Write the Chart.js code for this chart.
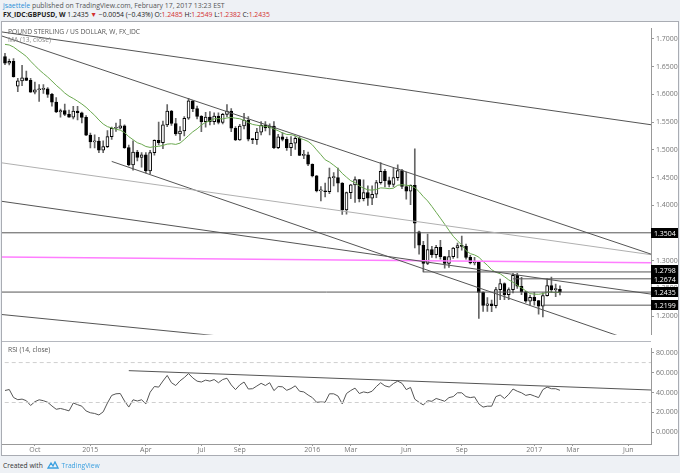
<!DOCTYPE html>
<html>
<head>
<meta charset="utf-8">
<script src="https://cdn.jsdelivr.net/npm/chart.js@4.4.1/dist/chart.umd.min.js"></script>
<style>
  body { margin: 0; width: 680px; height: 473px; background: #eef1f5; position: relative; overflow: hidden; font-family: "Open Sans", "Liberation Sans", sans-serif; }
  .txt { position: absolute; white-space: nowrap; }
  #box { position: absolute; left: 2px; top: 22px; width: 676px; height: 433px; background: #fff; outline: 1px solid #a9acb3; }
  #sep { position: absolute; left: 2px; top: 341px; width: 649px; height: 1px; background: #b5b8bf; }
  canvas { position: absolute; }
  .red { color: #d32f2f; }
</style>
</head>
<body>
<div class="txt" style="left:3px;top:1px;font-size:6.9px;color:#555"><span style="color:#2a8fd8">jsaettele</span> published on TradingView.com, February 17, 2017 13:23 EST</div>
<div class="txt" style="left:3px;top:10px;font-size:6.8px;color:#222"><b>FX_IDC:GBPUSD, W</b> 1.2435 <span class="red">&#9660;</span> &minus;0.0054 (&minus;0.43%) O:<span class="red">1.2485</span> H:<span class="red">1.2549</span> L:<span class="red">1.2382</span> C:<span class="red">1.2435</span></div>
<div id="box"></div>
<canvas id="priceChart" width="676" height="319" style="left:2px;top:22px"></canvas>
<canvas id="rsiChart" width="676" height="113" style="left:2px;top:342px"></canvas>
<div id="sep"></div>
<div class="txt" style="left:8px;top:27px;font-size:6.7px;color:#555">POUND STERLING / US DOLLAR, W, FX_IDC</div>
<div class="txt" style="left:8px;top:35px;font-size:6.7px;color:#888">MA (13, close)</div>
<div class="txt" style="left:8px;top:345px;font-size:6.7px;color:#555">RSI (14, close)</div>
<div class="txt" style="left:3px;top:461px;font-size:6.7px;color:#333">Created with
  <svg width="12" height="8" viewBox="0 0 12 8" style="vertical-align:-1px;margin:0 2px 0 3px"><path d="M1 7 L4 2 L6 5 L8 1 L11 7 Z" fill="none" stroke="#3ba0e0" stroke-width="1.3"/></svg><span style="color:#3ba0e0">TradingView</span></div>

<script>
// weekly bars, index 0 = week of 18 Aug 2014, index 130 = week of 13 Feb 2017
const opens = [1.6685,1.6566,1.6595,1.6150,1.6245,1.6300,1.6255,1.6040,1.6085,1.6090,1.6100,1.6000,1.5860,1.5685,1.5710,1.5640,1.5590,1.5700,1.5670,1.5585,
  1.5265,1.5145,1.5160,1.4995,1.5060,1.5240,1.5390,1.5390,1.5435,1.5040,1.4730,1.4960,1.4865,1.4910,1.4620,1.4950,1.5170,1.5130,1.5450,1.5700,
  1.5475,1.5290,1.5340,1.5570,1.5885,1.5745,1.5605,1.5510,1.5590,1.5510,1.5610,1.5495,1.5640,1.5700,1.5390,1.5180,1.5430,1.5535,1.5195,1.5185,
  1.5320,1.5445,1.5395,1.5430,1.5040,1.5235,1.5190,1.5040,1.5120,1.5210,1.4900,1.4910,1.4740,1.4530,1.4260,1.4260,1.4245,1.4500,1.4500,1.4400,
  1.3915,1.4230,1.4370,1.4465,1.4120,1.4230,1.4130,1.4200,1.4410,1.4615,1.4445,1.4375,1.4500,1.4625,1.4340,1.4255,1.4360,1.3520,1.3280,1.2950,
  1.3200,1.3110,1.3240,1.3075,1.2950,1.3075,1.3230,1.3275,1.3260,1.3060,1.2960,1.2975,1.2430,1.2195,1.2225,1.2190,1.2480,1.2590,1.2390,1.2480,
  1.2735,1.2540,1.2440,1.2270,1.2340,1.2280,1.2180,1.2370,1.2550,1.2480,1.2485];
const highs = [1.6740,1.6640,1.6645,1.6290,1.6525,1.6420,1.6290,1.6225,1.6180,1.6180,1.6125,1.6020,1.5945,1.5735,1.5825,1.5720,1.5785,1.5785,1.5680,1.5620,
  1.5305,1.5270,1.5225,1.5165,1.5350,1.5410,1.5485,1.5550,1.5450,1.5085,1.5165,1.4990,1.4950,1.4950,1.4990,1.5180,1.5500,1.5520,1.5815,1.5715,
  1.5570,1.5420,1.5600,1.5930,1.5890,1.5790,1.5620,1.5675,1.5690,1.5670,1.5670,1.5660,1.5815,1.5745,1.5420,1.5460,1.5660,1.5600,1.5200,1.5390,
  1.5510,1.5510,1.5470,1.5510,1.5280,1.5310,1.5230,1.5240,1.5240,1.5240,1.4990,1.4960,1.4750,1.4540,1.4340,1.4400,1.4670,1.4590,1.4670,1.4410,
  1.4240,1.4380,1.4515,1.4470,1.4460,1.4350,1.4350,1.4450,1.4770,1.4650,1.4510,1.4670,1.4730,1.4650,1.4600,1.4370,1.5020,1.3535,1.3350,1.3480,
  1.3260,1.3280,1.3370,1.3080,1.3190,1.3240,1.3320,1.3445,1.3300,1.3100,1.3060,1.2990,1.2440,1.2335,1.2290,1.2520,1.2670,1.2600,1.2510,1.2775,
  1.2775,1.2700,1.2450,1.2380,1.2430,1.2285,1.2420,1.2675,1.2705,1.2580,1.2549];
const lows = [1.6535,1.6533,1.6310,1.6050,1.6160,1.6250,1.6035,1.6010,1.5875,1.6020,1.5945,1.5790,1.5670,1.5590,1.5615,1.5585,1.5560,1.5540,1.5485,1.5255,
  1.5035,1.5035,1.4950,1.4950,1.5040,1.5190,1.5335,1.5380,1.5025,1.4710,1.4635,1.4800,1.4690,1.4585,1.4565,1.4905,1.5090,1.5020,1.5420,1.5440,
  1.5260,1.5170,1.5250,1.5550,1.5690,1.5560,1.5330,1.5410,1.5450,1.5460,1.5470,1.5470,1.5600,1.5330,1.5165,1.5170,1.5380,1.5160,1.5110,1.5100,
  1.5270,1.5340,1.5270,1.5020,1.5020,1.5160,1.4990,1.4895,1.5010,1.4895,1.4840,1.4715,1.4510,1.4240,1.4080,1.4150,1.4210,1.4350,1.4240,1.3835,
  1.3840,1.4120,1.4050,1.4060,1.4080,1.4000,1.4010,1.4140,1.4380,1.4330,1.4330,1.4330,1.4450,1.4300,1.4110,1.4010,1.3230,1.3120,1.2800,1.2930,
  1.3060,1.3050,1.3030,1.2865,1.2880,1.3040,1.3050,1.3190,1.3030,1.2945,1.2925,1.1960,1.2085,1.2085,1.2080,1.2150,1.2300,1.2300,1.2300,1.2420,
  1.2500,1.2390,1.2250,1.2200,1.2200,1.2035,1.1985,1.2360,1.2430,1.2350,1.2382];
const closes = [1.6566,1.6595,1.6320,1.6245,1.6300,1.6255,1.6040,1.6085,1.6090,1.6100,1.6000,1.5860,1.5685,1.5710,1.5640,1.5590,1.5700,1.5670,1.5585,1.5265,
  1.5145,1.5160,1.4995,1.5060,1.5240,1.5390,1.5390,1.5435,1.5040,1.4730,1.4960,1.4865,1.4910,1.4620,1.4950,1.5170,1.5130,1.5450,1.5700,1.5475,
  1.5290,1.5340,1.5570,1.5885,1.5745,1.5605,1.5510,1.5590,1.5510,1.5610,1.5495,1.5640,1.5700,1.5390,1.5180,1.5430,1.5535,1.5195,1.5185,1.5320,
  1.5445,1.5395,1.5430,1.5040,1.5235,1.5190,1.5040,1.5120,1.5210,1.4900,1.4910,1.4740,1.4530,1.4260,1.4260,1.4245,1.4500,1.4500,1.4400,1.3915,
  1.4230,1.4370,1.4465,1.4120,1.4230,1.4130,1.4200,1.4410,1.4615,1.4445,1.4375,1.4500,1.4625,1.4340,1.4255,1.4360,1.3680,1.3280,1.2950,1.3200,
  1.3110,1.3240,1.3075,1.2950,1.3075,1.3230,1.3275,1.3260,1.3060,1.2960,1.2975,1.2430,1.2195,1.2225,1.2190,1.2480,1.2590,1.2390,1.2480,1.2735,
  1.2540,1.2440,1.2270,1.2340,1.2280,1.2180,1.2370,1.2550,1.2480,1.2485,1.2435];
const maValues = [1.6903,1.6892,1.6855,1.6799,1.6744,1.6686,1.6600,1.6522,1.6445,1.6378,1.6314,1.6242,1.6165,1.6099,1.6025,1.5969,1.5927,1.5879,1.5827,1.5768,
  1.5695,1.5624,1.5539,1.5467,1.5419,1.5396,1.5372,1.5356,1.5313,1.5239,1.5184,1.5129,1.5102,1.5061,1.5045,1.5058,1.5064,1.5080,1.5104,1.5110,
  1.5099,1.5122,1.5187,1.5258,1.5326,1.5379,1.5448,1.5497,1.5523,1.5560,1.5563,1.5559,1.5576,1.5584,1.5572,1.5561,1.5534,1.5492,1.5459,1.5445,
  1.5433,1.5425,1.5411,1.5376,1.5345,1.5305,1.5278,1.5274,1.5257,1.5208,1.5186,1.5152,1.5091,1.5000,1.4913,1.4822,1.4780,1.4723,1.4663,1.4576,
  1.4508,1.4443,1.4410,1.4349,1.4310,1.4279,1.4274,1.4286,1.4314,1.4310,1.4300,1.4308,1.4363,1.4371,1.4362,1.4354,1.4320,1.4247,1.4157,1.4080,
  1.3980,1.3874,1.3768,1.3659,1.3549,1.3442,1.3360,1.3283,1.3183,1.3128,1.3105,1.3065,1.2987,1.2919,1.2838,1.2793,1.2765,1.2712,1.2655,1.2613,
  1.2558,1.2510,1.2457,1.2408,1.2397,1.2395,1.2407,1.2434,1.2434,1.2426,1.2430];
const rsiValues = [42,43,35,32.8,33.4,31.8,27,30.8,32.7,31.8,30.2,26.5,23.2,24,22.9,21.6,29.5,27.8,26.3,21.5,
  19.7,19,17.5,20.6,29.5,37.1,38.7,39,31.5,25.4,32.7,31.5,32.7,28.6,40.3,46,45.4,51.5,57.1,49.8,
  47,51.7,55,59,54.6,51.4,50.5,52.4,51.4,53,49.8,53,54.3,47.6,42.9,47.6,50.5,43.5,43.8,46.5,
  49.2,47,49.8,41.9,46,45.7,42.2,44,46.7,41.3,40.6,37.5,34.9,30.2,30.5,30.2,38.7,38.7,36.5,28.6,
  39,42,44.4,39,40.6,39.7,41.3,46,49.8,46.7,45.5,49,51.4,49.2,42.9,45.1,33.3,30.2,27.5,31.8,
  31.2,34,32.7,31.2,34.9,35.9,39.7,39.7,35.9,34.9,35.6,28.6,25.4,26.3,26.3,35.9,37.5,34,38.1,43.5,
  41.3,39.7,37.1,38.1,36.5,34.9,42.9,45.4,43.8,43.8,42.2];

// time axis
const tickWeeks = [7, 20, 33, 46, 55, 72, 81, 94, 107, 124, 133, 146];
const tickLabels = ['Oct', '2015', 'Apr', 'Jul', 'Sep', '2016', 'Mar', 'Jun', 'Sep', '2017', 'Mar', 'Jun'];
const priceTicks = [1.20, 1.25, 1.30, 1.35, 1.40, 1.45, 1.50, 1.55, 1.60, 1.65, 1.70];
const rsiTicks = [0, 20, 40, 60, 80];

// horizontal levels: value and first week they start at
const levelValues = [1.3504, 1.2798, 1.2674, 1.2435, 1.2199];
const levelStart = [-1, 98, 119, -1, 126];

// trend lines as [week, price] pairs
const lineA = [[-1, 1.7130], [152, 1.5446]];
const lineB = [[-1, 1.7061], [152, 1.3102]];
const lineGray = [[-1, 1.4769], [152, 1.3102]];
const lineC = [[25, 1.4792], [152, 1.1424]];
const lineD = [[-1, 1.4075], [152, 1.2391]];
const lineE = [[-1, 1.2032], [152, 1.0866]];
const linePink = [[-1, 1.3068], [152, 1.2964]];
const rsiTrend = [[29, 61.9], [152, 42.4]];

const X_MIN = -0.70, X_MAX = 151.33;
const weeks = closes.map((_, i) => i);
const tickFont = { size: 7, family: 'Open Sans' };

function segment(pts) {
  return pts.map(p => ({ x: p[0], y: p[1] }));
}

function lineSet(pts, color, width, dash) {
  return {
    type: 'line', data: segment(pts), borderColor: color, borderWidth: width || 1,
    borderDash: dash || [], pointRadius: 0, order: 0, parsing: false
  };
}

const levelSets = levelValues.map((v, k) => lineSet([[levelStart[k], v], [X_MAX + 1, v]], '#555', 1));

// price axis labels in black boxes, nudged apart when they would overlap
const levelLabels = {
  id: 'levelLabels',
  afterDraw(chart) {
    const ctx = chart.ctx;
    const y = chart.scales.y;
    const pos = levelValues.map(v => y.getPixelForValue(v));
    for (let k = pos.length - 2; k >= 0; k--) {
      if (pos[k + 1] - pos[k] < 9) pos[k] = pos[k + 1] - 9;
    }
    ctx.save();
    ctx.font = '7px "Open Sans"';
    ctx.textBaseline = 'middle';
    levelValues.forEach((v, k) => {
      const py = Math.round(pos[k]);
      ctx.fillStyle = '#000';
      ctx.fillRect(y.left, py - 5, 27, 10);
      ctx.fillStyle = '#fff';
      ctx.fillText(v.toFixed(4), y.left + 3, py + 0.5);
    });
    ctx.restore();
  }
};

const rightAxis = (min, max, ticks) => ({
  position: 'right', min, max,
  afterFit: s => { s.width = 27; },
  afterBuildTicks: s => { s.ticks = ticks.map(v => ({ value: v })); },
  ticks: { font: tickFont, color: '#777', padding: 2, callback: v => v.toFixed(4) },
  grid: { drawOnChartArea: false, tickLength: 3, color: '#999' },
  border: { color: '#999' }
});

new Chart(document.getElementById('priceChart'), {
  data: {
    datasets: [
      lineSet(lineA, '#555'),
      lineSet(lineB, '#555'),
      lineSet(lineGray, '#b0b0b0'),
      lineSet(lineC, '#555'),
      lineSet(lineD, '#555'),
      lineSet(lineE, '#555'),
      lineSet(linePink, '#ff7dff', 1.5),
      ...levelSets,
      {
        type: 'line', data: weeks.map(i => ({ x: i, y: maValues[i] })),
        borderColor: '#6aa84f', borderWidth: 1, pointRadius: 0, order: 1, parsing: false
      },
      {
        type: 'bar', data: weeks.map(i => ({ x: i, y: [opens[i], closes[i]] })),
        backgroundColor: weeks.map(i => closes[i] >= opens[i] ? '#fff' : '#000'),
        borderColor: '#000', borderWidth: 1, borderSkipped: false,
        barThickness: 3, minBarLength: 1, grouped: false, order: 2
      },
      {
        type: 'bar', data: weeks.map(i => ({ x: i, y: [lows[i], highs[i]] })),
        backgroundColor: '#666', barThickness: 1, grouped: false, order: 3
      }
    ]
  },
  options: {
    responsive: false, animation: false, devicePixelRatio: 1,
    layout: { padding: 0 },
    plugins: { legend: { display: false }, tooltip: { enabled: false } },
    scales: {
      x: { type: 'linear', min: X_MIN, max: X_MAX, offset: false, display: false },
      y: rightAxis(1.16643, 1.71948, priceTicks)
    }
  },
  plugins: [levelLabels]
});

new Chart(document.getElementById('rsiChart'), {
  data: {
    datasets: [
      lineSet([[X_MIN - 1, 70], [X_MAX + 1, 70]], '#cfcfcf', 1, [4, 3]),
      lineSet([[X_MIN - 1, 30], [X_MAX + 1, 30]], '#cfcfcf', 1, [4, 3]),
      lineSet(rsiTrend, '#555'),
      {
        type: 'line', data: weeks.map(i => ({ x: i, y: rsiValues[i] })),
        borderColor: '#555', borderWidth: 1, pointRadius: 0, order: 1, parsing: false
      }
    ]
  },
  options: {
    responsive: false, animation: false, devicePixelRatio: 1,
    layout: { padding: 0 },
    plugins: { legend: { display: false }, tooltip: { enabled: false } },
    scales: {
      x: {
        type: 'linear', min: X_MIN, max: X_MAX, offset: false,
        afterFit: s => { s.height = 11; },
        afterBuildTicks: s => { s.ticks = tickWeeks.map(v => ({ value: v })); },
        ticks: {
          font: tickFont, color: '#777', padding: 0, maxRotation: 0, autoSkip: false,
          callback: v => tickLabels[tickWeeks.indexOf(v)]
        },
        grid: { drawOnChartArea: false, tickLength: 2, color: '#999' },
        border: { color: '#999' }
      },
      y: rightAxis(-11.6, 84.4, rsiTicks)
    }
  }
});
</script>
</body>
</html>
